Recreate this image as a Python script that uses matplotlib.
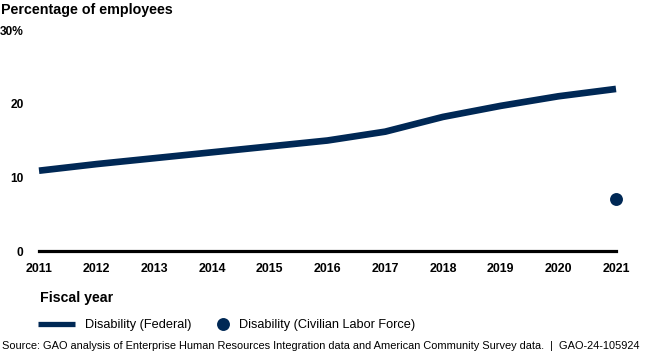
import matplotlib
matplotlib.use("Agg")
import matplotlib.pyplot as plt

plt.rcParams['font.family'] = ['Liberation Sans', 'DejaVu Sans']

years = [2011, 2012, 2013, 2014, 2015, 2016, 2017, 2018, 2019, 2020, 2021]
federal = [10.9, 11.8, 12.6, 13.4, 14.2, 15.0, 16.2, 18.2, 19.7, 21.0, 22.0]
clf_year = [2021]
clf_value = [7.0]
yticks = [0, 10, 20, 30]
ytick_labels = ['0', '10', '20', '30%']

NAVY = '#002855'

fig = plt.figure(figsize=(6.5, 3.55), dpi=100)
ax = fig.add_axes([39 / 650, 104 / 355, 577 / 650, 221 / 355])

fed_line, = ax.plot(years, federal, color=NAVY, lw=4.8, solid_capstyle='butt',
                    label='Disability (Federal)', zorder=3, clip_on=False)
clf_dot, = ax.plot(clf_year, clf_value, 'o', color=NAVY, ms=9.3, mec='none',
                   label='Disability (Civilian Labor Force)', zorder=3, clip_on=False)
ax.axhline(0, color='black', lw=2.3, zorder=2, clip_on=False)

ax.set_xlim(2011, 2021)
ax.set_ylim(0, 30)
ax.set_xticks(years)
ax.set_xticklabels([str(y) for y in years], fontweight='bold', fontsize=8.9)
ax.set_yticks(yticks)
ax.set_yticklabels(ytick_labels, fontweight='bold', fontsize=8.6)
ax.tick_params(axis='y', length=0, pad=11)
ax.tick_params(axis='x', length=0, pad=9)
for s in ax.spines.values():
    s.set_visible(False)

fig.text(1 / 650, 1 - 10 / 355, 'Percentage of employees', fontsize=10.3,
         fontweight='bold', ha='left', va='center')
fig.text(40 / 650, 1 - 298 / 355, 'Fiscal year', fontsize=10.2,
         fontweight='bold', ha='left', va='center')

leg1 = fig.legend(handles=[fed_line], loc='center left',
                  bbox_to_anchor=(33 / 650, 1 - 325 / 355), frameon=False,
                  fontsize=9.2, handlelength=2.9, handletextpad=0.75, borderaxespad=0)
leg1.get_lines()[0].set_linewidth(3.8)
fig.legend(handles=[clf_dot], loc='center left',
           bbox_to_anchor=(208 / 650, 1 - 325 / 355), frameon=False,
           fontsize=9.2, handlelength=1.6, handletextpad=0.45, borderaxespad=0)

fig.text(2 / 650, 1 - 346 / 355,
         'Source: GAO analysis of Enterprise Human Resources Integration data and American Community Survey data.  |  GAO-24-105924',
         fontsize=7.92, ha='left', va='center')

fig.savefig('out.png', dpi=100)
